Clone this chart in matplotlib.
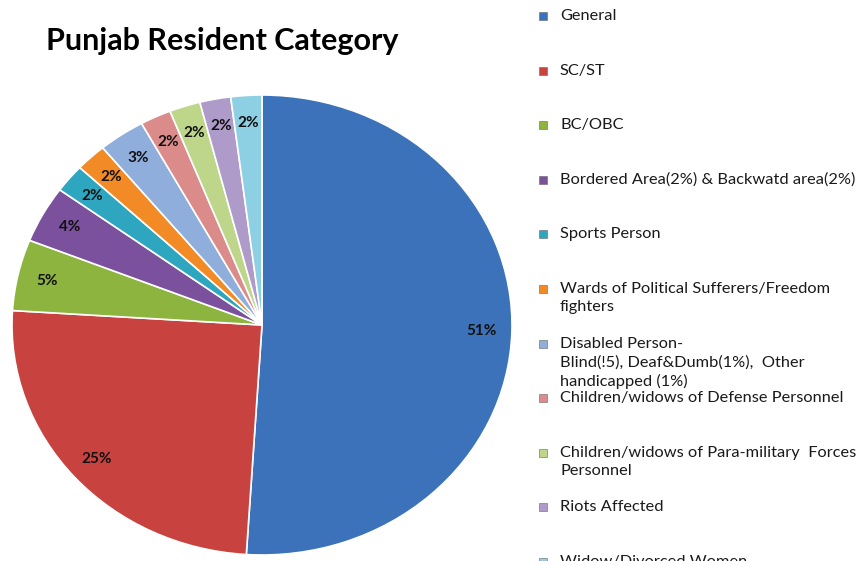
import matplotlib.pyplot as plt
from matplotlib.patches import Rectangle

# data
categories = [
    "General",
    "SC/ST",
    "BC/OBC",
    "Bordered Area(2%) & Backwatd area(2%)",
    "Sports Person",
    "Wards of Political Sufferers/Freedom\nfighters",
    "Disabled Person-\nBlind(!5), Deaf&Dumb(1%),  Other\nhandicapped (1%)",
    "Children/widows of Defense Personnel",
    "Children/widows of Para-military  Forces\nPersonnel",
    "Riots Affected",
    "Widow/Divorced Women",
]
shares = [51, 25, 5, 4, 2, 2, 3, 2, 2, 2, 2]
colors = ["#3C72B9", "#C8423F", "#8DB43E", "#7B519D", "#2FA6BF", "#F28A26",
          "#8FAEDB", "#DB8C8A", "#BDD68A", "#AE9BCA", "#8DCFE3"]

W, H = 867, 561
fig = plt.figure(figsize=(W / 100, H / 100), dpi=100)
plt.rcParams['font.family'] = ['Lato', 'DejaVu Sans']

# pie axes placed in pixel box (12..512, 95..555), aspect left free -> ellipse
ax = fig.add_axes([12 / W, (H - 555) / H, 500 / W, 460 / H])
wedges, texts, autotexts = ax.pie(
    shares, colors=colors, startangle=90, counterclock=False,
    autopct='%d%%', pctdistance=0.88,
    wedgeprops=dict(edgecolor='white', linewidth=1.2),
    textprops=dict(fontsize=11, fontweight='bold', color='#111111'))
ax.set_xlim(-1, 1)
ax.set_ylim(-1, 1)
ax.set_aspect('auto')
ax.axis('off')

fig.text(222 / W, 1 - 41 / H, "Punjab Resident Category", ha='center', va='center',
         fontsize=22, fontweight='bold', color='black')

# legend drawn by hand, one slot every ~54.6 px
y0 = 16
step = 54.6
for i, (lab, c) in enumerate(zip(categories, colors)):
    y = y0 + i * step
    fig.patches.append(Rectangle((539 / W, 1 - (y + 4) / H), 8 / W, 8 / H,
                                 transform=fig.transFigure, facecolor=c,
                                 edgecolor='#666666', linewidth=0.4))
    fig.text(560 / W, 1 - (y - 7) / H, lab, ha='left', va='top', fontsize=11.8,
             color='#1a1a1a', linespacing=1.38)

fig.savefig('out.png', dpi=100)
